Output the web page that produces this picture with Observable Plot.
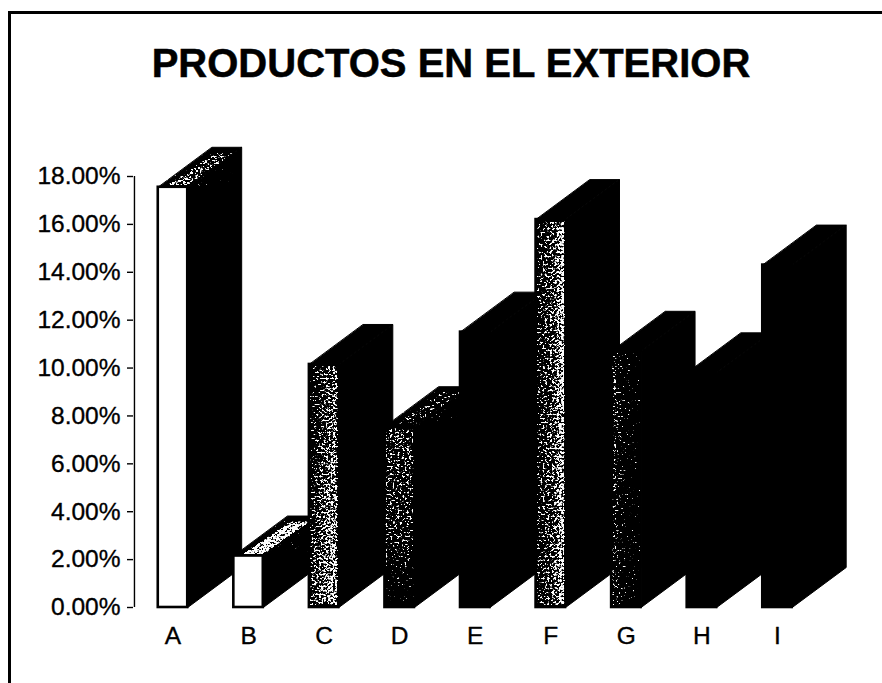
<!DOCTYPE html>
<html lang="es">
<head>
<meta charset="utf-8">
<title>Productos en el exterior</title>
<script src="https://cdn.jsdelivr.net/npm/d3@7"></script>
<script src="https://cdn.jsdelivr.net/npm/@observablehq/plot@0.6"></script>
<style>
  html, body { margin: 0; background: #fff; }
  body { position: relative; width: 882px; height: 683px; overflow: hidden; font-family: "Liberation Sans", Arial, sans-serif; color: #000; }
  #frame { position: absolute; left: 8px; top: 11px; right: -10px; bottom: -10px; border: 3px solid #000; border-right: 0; border-bottom: 0; }
  #title { position: absolute; left: 0; width: 902px; top: 40px; text-align: center; font-size: 40px; font-weight: 700; line-height: 46px; white-space: nowrap; -webkit-text-stroke: 0.5px #000; }
  #chart { position: absolute; left: 0; top: 100px; }
  #chart svg { overflow: visible; }
</style>
</head>
<body>
<div id="frame"></div>
<div id="title">PRODUCTOS EN EL EXTERIOR</div>
<div id="chart"></div>

<!-- Photocopy-style speckle: alpha of the source fill sets how dense the white dots are. -->
<svg width="0" height="0" style="position:absolute">
  <defs>
    <filter id="speckle" x="0" y="0" width="1" height="1" color-interpolation-filters="sRGB">
      <feTurbulence type="fractalNoise" baseFrequency="0.42 0.5" numOctaves="3" seed="11" result="noise"/>
      <feColorMatrix in="noise" type="matrix" values="0 0 0 0 1  0 0 0 0 1  0 0 0 0 1  1.6 0 0 0 -0.3" result="noiseAlpha"/>
      <feComposite in="noiseAlpha" in2="SourceGraphic" operator="arithmetic" k1="0" k2="0.8" k3="0.62" k4="-0.5" result="mix"/>
      <feComponentTransfer in="mix">
        <feFuncA type="linear" slope="10" intercept="-2.3"/>
      </feComponentTransfer>
    </filter>
    <linearGradient id="grain-C" x1="0" y1="0" x2="1" y2="0.6">
      <stop offset="0" stop-color="#fff" stop-opacity="0.16"/>
      <stop offset="0.5" stop-color="#fff" stop-opacity="0.46"/>
      <stop offset="1" stop-color="#fff" stop-opacity="0.66"/>
    </linearGradient>
    <linearGradient id="grain-D" x1="0" y1="0" x2="0" y2="1">
      <stop offset="0" stop-color="#fff" stop-opacity="0.44"/>
      <stop offset="0.6" stop-color="#fff" stop-opacity="0.36"/>
      <stop offset="0.85" stop-color="#fff" stop-opacity="0.14"/>
      <stop offset="1" stop-color="#fff" stop-opacity="0"/>
    </linearGradient>
    <linearGradient id="grain-F" x1="0" y1="0" x2="1" y2="0">
      <stop offset="0" stop-color="#fff" stop-opacity="0.32"/>
      <stop offset="0.6" stop-color="#fff" stop-opacity="0.48"/>
      <stop offset="1" stop-color="#fff" stop-opacity="0.74"/>
    </linearGradient>
    <linearGradient id="grain-G" x1="0" y1="0" x2="1" y2="0">
      <stop offset="0" stop-color="#fff" stop-opacity="0.38"/>
      <stop offset="0.4" stop-color="#fff" stop-opacity="0.14"/>
      <stop offset="1" stop-color="#fff" stop-opacity="0.06"/>
    </linearGradient>
    <linearGradient id="grain-top-A" x1="0" y1="1" x2="1" y2="0">
      <stop offset="0" stop-color="#fff" stop-opacity="0.58"/>
      <stop offset="1" stop-color="#fff" stop-opacity="0.36"/>
    </linearGradient>
    <linearGradient id="grain-top-B" x1="0" y1="1" x2="1" y2="0">
      <stop offset="0" stop-color="#fff" stop-opacity="0.82"/>
      <stop offset="1" stop-color="#fff" stop-opacity="0.78"/>
    </linearGradient>
    <linearGradient id="grain-top-D" x1="0" y1="1" x2="1" y2="0">
      <stop offset="0" stop-color="#fff" stop-opacity="0.26"/>
      <stop offset="1" stop-color="#fff" stop-opacity="0.32"/>
    </linearGradient>
  </defs>
</svg>

<script>
// Share of products abroad, per category (percent).
const categories = ["A", "B", "C", "D", "E", "F", "G", "H", "I"];
const shares = [17.55, 2.15, 10.15, 7.55, 11.5, 16.2, 10.7, 9.8, 14.3];
const yTicks = [0, 2, 4, 6, 8, 10, 12, 14, 16, 18];

// Front faces that are plain white, and those with speckle over black.
const whiteFaces = ["A", "B"];
const speckledFaces = ["C", "D", "F", "G"];
const speckledTops = ["A", "B", "D"];

// Extrusion of the 3D columns, expressed in data units.
const halfWidth = 0.195;
const depthX = 0.714;
const depthY = 1.67;

const closedShape = (points, options) =>
  Plot.line(points, {x: "x", y: "y", curve: "linear-closed", ...options});

const columnMarks = categories.flatMap((name, i) => {
  const v = shares[i];
  const left = i - halfWidth;
  const right = i + halfWidth;
  const side = [
    {x: right, y: 0}, {x: right + depthX, y: depthY},
    {x: right + depthX, y: v + depthY}, {x: right, y: v}
  ];
  const top = [
    {x: left, y: v}, {x: right, y: v},
    {x: right + depthX, y: v + depthY}, {x: left + depthX, y: v + depthY}
  ];
  const solid = {fill: "#000", stroke: "#000", strokeWidth: 1};
  const white = whiteFaces.includes(name);
  const marks = [
    closedShape(side, solid),
    closedShape(top, solid),
    Plot.rect([v], {
      x1: left, x2: right, y1: 0, y2: d => d,
      fill: white ? "#fff" : "#000", stroke: "#000", strokeWidth: 2.6
    })
  ];
  if (speckledFaces.includes(name)) {
    marks.push(Plot.rect([v], {
      x1: left + 0.02, x2: right - 0.01, y1: 0.1, y2: d => d - 0.1,
      fill: `url(#grain-${name})`, imageFilter: "url(#speckle)"
    }));
  }
  if (speckledTops.includes(name)) {
    // Lit inner panel of the top face, inset from its black edge.
    const t = 0.14;
    const inset = [
      {x: left + 0.12, y: v + 0.08}, {x: right, y: v + 0.08},
      {x: right + depthX * (1 - t), y: v + depthY * (1 - t)},
      {x: left + depthX * (1 - t) + 0.14, y: v + depthY * (1 - t)}
    ];
    marks.push(closedShape(inset, {
      fill: `url(#grain-top-${name})`, imageFilter: "url(#speckle)"
    }));
  }
  return marks;
});

const chart = Plot.plot({
  width: 882,
  height: 583,
  marginLeft: 133,
  marginTop: 76,
  marginBottom: 76,
  marginRight: 0,
  style: {background: "transparent", color: "#000", fontFamily: "'Liberation Sans', Arial, sans-serif"},
  x: {type: "linear", domain: [0, categories.length - 1], range: [172.5, 777]},
  y: {type: "linear", domain: [0, 18], range: [507, 76]},
  marks: [
    ...columnMarks,
    Plot.ruleX([-0.51], {y1: 0, y2: 18, stroke: "#000", strokeWidth: 1.4}),
    Plot.axisY({
      anchor: "left", ticks: yTicks, tickSize: 6, tickPadding: 7, tickFormat: d => `${d.toFixed(2)}%`,
      fontSize: 24.5, stroke: "#000", strokeWidth: 1.4, label: null,
      textStroke: "#000", textStrokeWidth: 0.35
    }),
    Plot.axisX({
      anchor: "bottom", ticks: categories.map((_, i) => i), tickSize: 0, tickPadding: 19,
      tickFormat: i => categories[i], fontSize: 24.5, label: null,
      textStroke: "#000", textStrokeWidth: 0.35
    })
  ]
});
document.getElementById("chart").appendChild(chart);
</script>
</body>
</html>
